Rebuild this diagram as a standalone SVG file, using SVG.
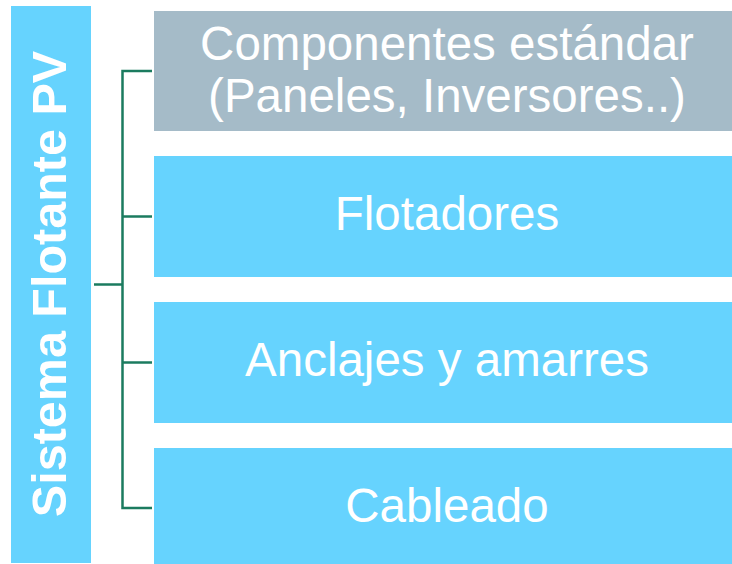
<svg xmlns="http://www.w3.org/2000/svg" width="732" height="564" viewBox="0 0 732 564">
<style>
.box{fill:#66d3fe}
.gray{fill:#a5bbc8}
.t{font-family:"Liberation Sans",Arial,sans-serif;font-size:47.5px;fill:#ffffff;text-anchor:middle}
.tb{font-family:"Liberation Sans",Arial,sans-serif;font-size:48.5px;font-weight:bold;fill:#ffffff;text-anchor:middle}
.c{fill:none;stroke:#1b7b5f;stroke-width:2.5}
</style>
<rect width="732" height="564" fill="#ffffff"/>
<g id="root">
<rect class="box" x="11" y="6" width="80" height="557"/>
<text class="tb" transform="translate(66,284) rotate(-90)">Sistema Flotante PV</text>
</g>
<g id="connectors">
<path class="c" d="M94,284.5 H122.5"/>
<path class="c" d="M152,71 H122.5 V508 H152"/>
<path class="c" d="M122.5,216.5 H152"/>
<path class="c" d="M122.5,362.5 H152"/>
</g>
<g id="componentes">
<rect class="gray" x="154" y="11" width="590" height="120"/>
<text class="t" x="447" y="60">Componentes estándar</text>
<text class="t" x="447" y="112">(Paneles, Inversores..)</text>
</g>
<g id="flotadores">
<rect class="box" x="154" y="156" width="590" height="121"/>
<text class="t" x="447" y="229.5">Flotadores</text>
</g>
<g id="anclajes">
<rect class="box" x="154" y="302" width="590" height="121"/>
<text class="t" x="447" y="375.5">Anclajes y amarres</text>
</g>
<g id="cableado">
<rect class="box" x="154" y="448" width="590" height="121"/>
<text class="t" x="447" y="521.5">Cableado</text>
</g>
</svg>
